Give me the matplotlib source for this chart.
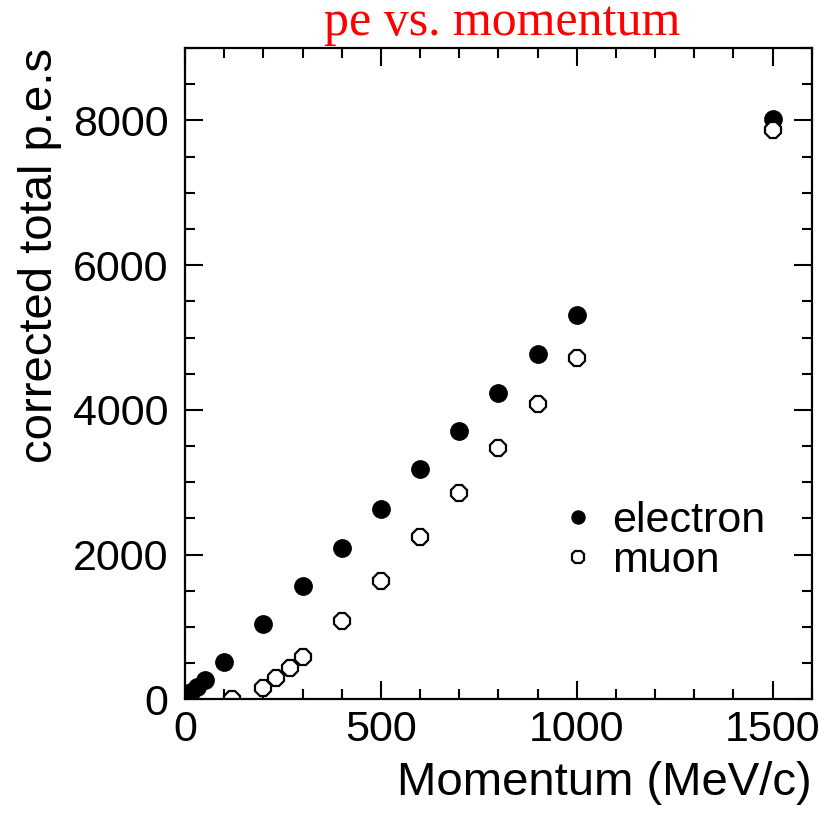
import numpy as np
import matplotlib
matplotlib.use("Agg")
import matplotlib.pyplot as plt
from matplotlib.ticker import MultipleLocator

# momentum (MeV/c) and corrected total photoelectrons
electron_p = [5, 15, 30, 50, 100, 200, 300, 400, 500, 600, 700, 800, 900, 1000, 1500]
electron_pe = [40, 105, 170, 260, 510, 1040, 1560, 2085, 2625, 3180, 3705, 4235, 4775, 5315, 8025]

muon_p = [120, 200, 233, 267, 300, 400, 500, 600, 700, 800, 900, 1000, 1500]
muon_pe = [0, 150, 290, 430, 580, 1075, 1640, 2240, 2850, 3470, 4080, 4715, 7870]

plt.rcParams['font.family'] = ['Liberation Sans', 'DejaVu Sans']

fig = plt.figure(figsize=(8.30, 8.15), dpi=100)
ax = fig.add_axes([0.223, 0.142, 0.755, 0.799])

ax.plot(electron_p, electron_pe, ls='none', marker='o', ms=12.5,
        mfc='black', mec='black', label='electron')
ax.plot(muon_p, muon_pe, ls='none', marker='8', ms=13,
        mfc='white', mec='black', mew=1.6, label='muon')

ax.set_xlim(0, 1600)
ax.set_ylim(0, 9000)
ax.xaxis.set_major_locator(MultipleLocator(500))
ax.xaxis.set_minor_locator(MultipleLocator(100))
ax.yaxis.set_major_locator(MultipleLocator(2000))
ax.yaxis.set_minor_locator(MultipleLocator(500))
ax.tick_params(which='both', direction='in', top=True, right=True,
               width=1.5, labelsize=31, colors='black')
ax.tick_params(which='major', length=13)
ax.tick_params(axis='y', which='major', pad=12)
ax.tick_params(axis='x', which='major', pad=8)
ax.tick_params(which='minor', length=7)
for s in ax.spines.values():
    s.set_linewidth(1.6)

ax.set_xlabel('Momentum (MeV/c)', fontsize=34, loc='right', labelpad=8)
ax.set_ylabel('corrected total p.e.s', fontsize=34, loc='top', labelpad=8)

fig.text(0.605, 0.972, 'pe vs. momentum', color='red', fontsize=36,
         family='Liberation Serif', ha='center', va='center')

ax.legend(loc='upper left', bbox_to_anchor=(0.565, 0.338), frameon=False,
          fontsize=31, markerscale=0.75, handlelength=0.8, handletextpad=0.4,
          labelspacing=0.0, borderpad=0.0)

fig.savefig('out.png', dpi=100)
